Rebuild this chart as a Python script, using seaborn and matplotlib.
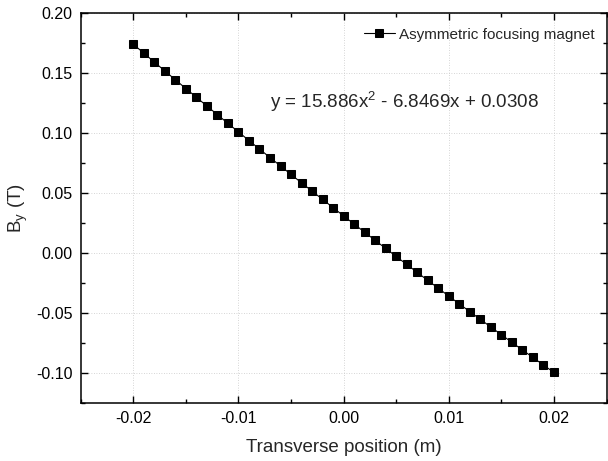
import matplotlib
matplotlib.use("Agg")
import matplotlib.pyplot as plt
import seaborn as sns
import pandas as pd
from matplotlib.ticker import MultipleLocator, FormatStrFormatter

# Transverse field profile of the asymmetric focusing magnet
position_m = [
    -0.020, -0.019, -0.018, -0.017, -0.016, -0.015, -0.014, -0.013, -0.012, -0.011,
    -0.010, -0.009, -0.008, -0.007, -0.006, -0.005, -0.004, -0.003, -0.002, -0.001,
    0.000, 0.001, 0.002, 0.003, 0.004, 0.005, 0.006, 0.007, 0.008, 0.009,
    0.010, 0.011, 0.012, 0.013, 0.014, 0.015, 0.016, 0.017, 0.018, 0.019, 0.020,
]
field_T = [
    0.1741, 0.1666, 0.1592, 0.1518, 0.1444, 0.1371, 0.1298, 0.1225, 0.1153, 0.1080,
    0.1009, 0.0937, 0.0866, 0.0795, 0.0725, 0.0654, 0.0584, 0.0515, 0.0446, 0.0377,
    0.0308, 0.0240, 0.0172, 0.0104, 0.0037, -0.0030, -0.0097, -0.0163, -0.0230, -0.0295,
    -0.0361, -0.0426, -0.0491, -0.0555, -0.0619, -0.0683, -0.0747, -0.0810, -0.0873, -0.0936,
    -0.0998,
]
series_name = "Asymmetric focusing magnet"
fit_label = r"y = 15.886x$^\mathregular{2}$ - 6.8469x + 0.0308"

df = pd.DataFrame({"x": position_m, "By": field_T})

sns.set_style("ticks")
plt.rcParams["font.family"] = ["Liberation Sans", "DejaVu Sans"]
plt.rcParams["mathtext.fontset"] = "custom"
plt.rcParams["mathtext.rm"] = "Liberation Sans"

fig = plt.figure(figsize=(6.08, 4.61), dpi=100)
ax = fig.add_axes([0.1327, 0.1265, 0.865, 0.845])

sns.lineplot(data=df, x="x", y="By", ax=ax, color="black", linewidth=0.8,
             marker="s", markersize=5.8, markeredgecolor="black",
             label=series_name)

ax.set_xlim(-0.025, 0.025)
ax.set_ylim(-0.125, 0.20)
ax.xaxis.set_major_locator(MultipleLocator(0.01))
ax.xaxis.set_minor_locator(MultipleLocator(0.005))
ax.yaxis.set_major_locator(MultipleLocator(0.05))
ax.yaxis.set_minor_locator(MultipleLocator(0.025))
ax.xaxis.set_major_formatter(FormatStrFormatter("%.2f"))
ax.yaxis.set_major_formatter(FormatStrFormatter("%.2f"))

ax.tick_params(which="both", direction="in", top=True, right=True,
               colors="black", labelsize=11.5, width=1.0)
ax.tick_params(which="major", length=5, pad=6)
ax.tick_params(which="minor", length=3)
for s in ax.spines.values():
    s.set_linewidth(1.1)
    s.set_color("black")

ax.grid(which="major", linestyle=(0, (1, 2)), color="#c8c8c8", linewidth=0.6)
ax.set_axisbelow(True)

ax.set_xlabel("Transverse position (m)", fontsize=13.5, labelpad=9)
ax.set_ylabel(r"B$_\mathregular{y}$ (T)", fontsize=13.5, labelpad=4)

ax.text(-0.007, 0.1262, fit_label, fontsize=13.5, ha="left", va="center")

leg = ax.legend(loc="upper right", bbox_to_anchor=(0.998, 0.99), frameon=False,
                fontsize=11, handlelength=2.0, handletextpad=0.3, borderaxespad=0.3)

fig.savefig("out.png", dpi=100)
